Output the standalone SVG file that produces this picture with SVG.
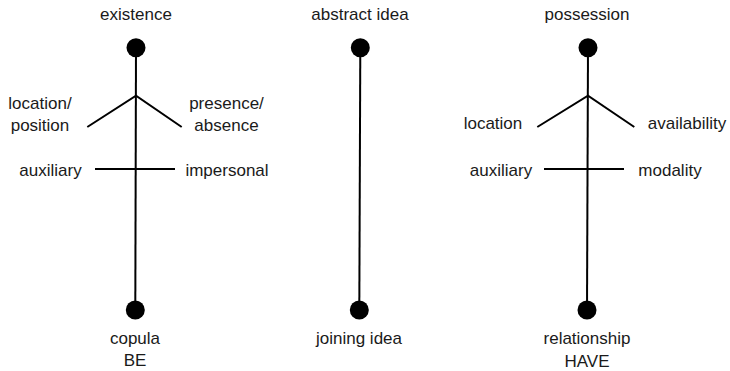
<svg xmlns="http://www.w3.org/2000/svg" width="730" height="371" viewBox="0 0 730 371">
  <style>
    .stem { stroke: #000; stroke-width: 2; fill: none; stroke-linecap: butt; }
    .dot { fill: #000; }
    text { font-family: "Liberation Sans", Arial, sans-serif; font-size: 17px; fill: #1a1a1a; text-anchor: middle; }
  </style>
  <rect width="730" height="371" fill="#fff"/>

  <!-- connectors: stems, forks and cross bars -->
  <g id="connectors">
    <line class="stem" x1="136" y1="48" x2="135.3" y2="310"/>
    <polyline class="stem" points="87.3,127 136,95.7 181.7,127"/>
    <line class="stem" x1="95" y1="169" x2="175" y2="169"/>

    <line class="stem" x1="360.3" y1="48" x2="359.3" y2="310"/>

    <line class="stem" x1="588" y1="48" x2="587" y2="310"/>
    <polyline class="stem" points="537.3,127 588,95.7 634.3,127"/>
    <line class="stem" x1="544" y1="169" x2="624" y2="169"/>
  </g>

  <!-- BE -->
  <g id="be-top">
    <circle class="dot" cx="136" cy="47.7" r="9.5"/>
    <text x="136" y="20">existence</text>
  </g>
  <g id="be-location">
    <text x="40" y="109">location/</text>
    <text x="40" y="131">position</text>
  </g>
  <g id="be-presence">
    <text x="226.5" y="109">presence/</text>
    <text x="226.5" y="131">absence</text>
  </g>
  <g id="be-auxiliary">
    <text x="50.5" y="176">auxiliary</text>
  </g>
  <g id="be-impersonal">
    <text x="227" y="176">impersonal</text>
  </g>
  <g id="be-bottom">
    <circle class="dot" cx="135.3" cy="310" r="9.5"/>
    <text x="135" y="343.5">copula</text>
    <text x="135" y="365.5">BE</text>
  </g>

  <!-- idea -->
  <g id="idea-top">
    <circle class="dot" cx="360.3" cy="47.7" r="9.5"/>
    <text x="360" y="20">abstract idea</text>
  </g>
  <g id="idea-bottom">
    <circle class="dot" cx="359.3" cy="310" r="9.5"/>
    <text x="359" y="344">joining idea</text>
  </g>

  <!-- HAVE -->
  <g id="have-top">
    <circle class="dot" cx="588" cy="47.7" r="9.5"/>
    <text x="587" y="20">possession</text>
  </g>
  <g id="have-location">
    <text x="493" y="129">location</text>
  </g>
  <g id="have-availability">
    <text x="687" y="129">availability</text>
  </g>
  <g id="have-auxiliary">
    <text x="501" y="176">auxiliary</text>
  </g>
  <g id="have-modality">
    <text x="670" y="176">modality</text>
  </g>
  <g id="have-bottom">
    <circle class="dot" cx="587" cy="310" r="9.5"/>
    <text x="587" y="343.5">relationship</text>
    <text x="587" y="366.5">HAVE</text>
  </g>
</svg>
